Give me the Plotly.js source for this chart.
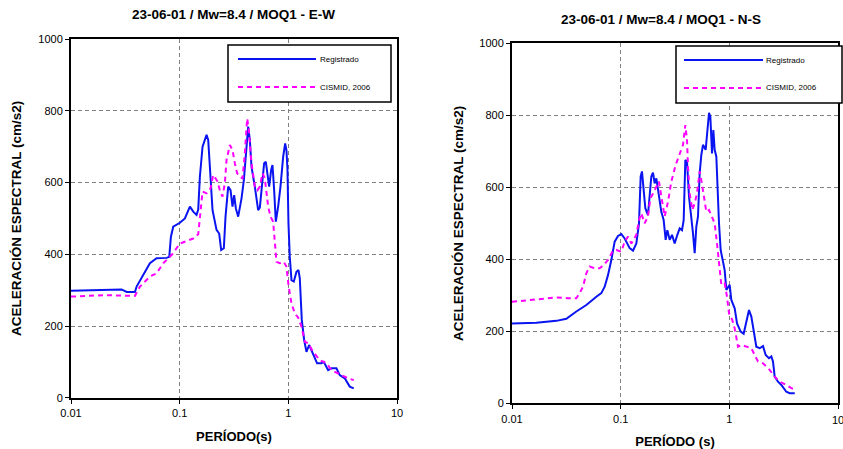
<!DOCTYPE html>
<html>
<head>
<meta charset="utf-8">
<script src="https://cdn.plot.ly/plotly-3.0.1.min.js"></script>
<style>html,body{margin:0;padding:0;background:#fff;overflow:hidden;}#chart{width:843px;height:449px;}</style>
</head>
<body>
<div id="chart"></div>
<script>
// ---- E-W component ----
const ewRegT = [0.01,0.02449,0.02923,0.0325,0.03876,0.04016,0.04624,0.05324,0.06132,0.0758,0.0802,0.08306,0.08728,0.1005,0.1117,0.1242,0.1333,0.1430,0.1482,0.1535,0.1624,0.1768,0.1831,0.1897,0.2007,0.2184,0.2310,0.2410,0.2550,0.2642,0.2796,0.2938,0.3064,0.3174,0.3288,0.3455,0.3709,0.3897,0.4064,0.4270,0.4423,0.4582,0.4917,0.5276,0.5467,0.5743,0.5991,0.6206,0.6383,0.6660,0.6948,0.7147,0.7404,0.7670,0.8058,0.8467,0.8959,0.9347,0.9615,0.9821,1.003,1.031,1.069,1.123,1.188,1.240,1.275,1.330,1.398,1.468,1.554,1.690,1.840,2.016,2.119,2.322,2.493,2.771,2.973,3.305,3.674,3.999];
const ewRegSa = [298,300,302,295,295,310,342,375,389,390,393,449,477,488,500,533,519,510,525,617,700,733,719,635,523,468,458,412,417,505,589,579,533,565,528,505,556,607,672,756,719,644,589,523,530,598,654,658,635,589,635,649,579,491,533,589,672,709,690,635,486,393,328,324,351,356,333,217,161,128,147,119,96,96,100,77,82,82,63,54,31,26];
const ewCisT = [0.01,0.01983,0.03876,0.04309,0.05324,0.06132,0.07063,0.08424,0.1005,0.1199,0.1333,0.1482,0.1535,0.1624,0.1768,0.1924,0.2035,0.2215,0.2343,0.2479,0.2605,0.2699,0.2896,0.3064,0.3219,0.3382,0.3580,0.3788,0.3980,0.4181,0.4331,0.4582,0.4917,0.5202,0.5467,0.5784,0.6076,0.6520,0.6851,0.7249,0.7779,0.8348,0.9087,0.9615,1.003,1.069,1.147,1.231,1.321,1.418,1.521,1.690,1.947,2.242,2.493,2.871,3.191,3.546,3.999];
const ewCisSa = [282,286,284,310,338,347,375,398,430,438,444,456,510,575,570,584,621,605,579,561,598,663,705,691,654,626,616,612,681,779,747,654,589,579,589,626,612,533,505,491,379,375,379,365,314,263,235,224,198,156,152,128,105,96,77,68,63,54,49];

// ---- N-S component ----
const nsRegT = [0.01,0.01675,0.02559,0.03162,0.03908,0.04831,0.05971,0.06638,0.07125,0.07645,0.08205,0.08807,0.09451,0.1014,0.1089,0.1210,0.1299,0.1394,0.1475,0.1528,0.1571,0.1616,0.1686,0.1784,0.1849,0.1915,0.1984,0.2055,0.2129,0.2237,0.2367,0.2487,0.2595,0.2689,0.2825,0.2968,0.3140,0.3323,0.3491,0.3669,0.3800,0.3937,0.4079,0.4255,0.4470,0.4631,0.4797,0.4970,0.5148,0.5333,0.5525,0.5724,0.6056,0.6273,0.6502,0.6688,0.6928,0.7127,0.7329,0.7593,0.7755,0.8033,0.8322,0.8622,0.9060,0.9385,0.9721,1.007,1.043,1.120,1.177,1.272,1.355,1.433,1.517,1.594,1.675,1.772,1.902,2.041,2.160,2.317,2.435,2.522,2.614,2.805,3.009,3.345,3.592,4.0];
const nsRegSa = [222,224,229,235,255,273,296,306,324,356,398,449,465,470,458,431,424,444,500,630,644,602,542,523,569,630,641,611,625,574,532,509,454,481,454,468,444,468,486,481,509,676,671,574,519,472,417,491,519,639,690,718,704,759,807,796,694,759,704,685,602,500,426,398,370,315,324,329,287,264,222,199,193,231,259,241,199,157,153,159,134,125,130,116,74,60,51,32,28,28];
const nsCisT = [0.01,0.01454,0.02559,0.03276,0.03908,0.04195,0.04501,0.04831,0.05185,0.05765,0.06408,0.06976,0.07645,0.08381,0.09123,0.1014,0.1089,0.1168,0.1254,0.1394,0.1475,0.1549,0.1662,0.1784,0.1875,0.1984,0.2129,0.2253,0.2367,0.2541,0.2727,0.2926,0.3208,0.3491,0.3747,0.3937,0.4079,0.4166,0.4315,0.4566,0.4797,0.5041,0.5333,0.5525,0.5805,0.6142,0.6502,0.6831,0.7329,0.7701,0.8147,0.8441,0.9060,0.9517,0.9929,1.066,1.120,1.202,1.290,1.433,1.594,1.711,1.836,2.041,2.350,2.614,2.905,3.345,3.721,4.0];
const nsCisSa = [282,287,294,292,292,306,324,361,380,375,375,384,398,421,426,421,449,463,444,468,509,528,500,519,569,583,602,616,574,519,560,616,662,690,718,773,731,657,583,537,556,583,644,620,574,532,537,523,500,444,370,329,333,296,250,231,208,157,162,157,153,134,116,111,93,74,60,51,42,39];

// ---- texts ----
const titleEW = "23-06-01 / Mw=8.4 / MOQ1 - E-W";
const titleNS = "23-06-01 / Mw=8.4 / MOQ1 - N-S";
const xTitleEW = "PERÍODO(s)";
const xTitleNS = "PERÍODO (s)";
const yTitle = "ACELERACIÓN ESPECTRAL (cm/s2)";
const seriesNames = ["Registrado", "CISMID, 2006"];
const xTickVals = [0.01, 0.1, 1, 10];
const xTickText = ["0.01", "0.1", "1", "10"];
const yTickVals = [0, 200, 400, 600, 800, 1000];

const FONT = "Arial, 'Liberation Sans', sans-serif";
const BLUE = "#0a14f0";
const MAG = "#ff00ff";
const W = 843, H = 449;
const px = v => v / W;
const py = v => 1 - v / H;

const traces = [
  {x: ewRegT, y: ewRegSa, xaxis: 'x', yaxis: 'y', mode: 'lines', name: seriesNames[0], line: {color: BLUE, width: 2}},
  {x: ewCisT, y: ewCisSa, xaxis: 'x', yaxis: 'y', mode: 'lines', name: seriesNames[1], line: {color: MAG, width: 2, dash: '5px,4px'}},
  {x: nsRegT, y: nsRegSa, xaxis: 'x2', yaxis: 'y2', mode: 'lines', name: seriesNames[0], line: {color: BLUE, width: 2}},
  {x: nsCisT, y: nsCisSa, xaxis: 'x2', yaxis: 'y2', mode: 'lines', name: seriesNames[1], line: {color: MAG, width: 2, dash: '5px,4px'}}
];

function xa(domain, titleText, standoff) {
  return {
    type: 'log', range: [-2, 1], domain: domain,
    tickvals: xTickVals, ticktext: xTickText,
    ticks: 'outside', ticklen: 4, tickcolor: '#000', tickwidth: 1,
    showline: true, mirror: true, linecolor: '#000', linewidth: 2,
    showgrid: true, gridcolor: '#808080', griddash: '4px,3px', gridwidth: 1,
    zeroline: false,
    tickfont: {family: FONT, size: 11, color: '#000'},
    title: {text: titleText, font: {family: FONT, size: 13, color: '#000', weight: 'bold'}, standoff: standoff},
    automargin: false
  };
}
function ya(domain, standoff) {
  return {
    range: [0, 1000], domain: domain, tickvals: yTickVals,
    ticks: 'outside', ticklen: 4, tickcolor: '#000', tickwidth: 1,
    showline: true, mirror: true, linecolor: '#000', linewidth: 2,
    showgrid: true, gridcolor: '#808080', griddash: '4px,3px', gridwidth: 1,
    zeroline: false,
    tickfont: {family: FONT, size: 11, color: '#000'},
    title: {text: yTitle, font: {family: FONT, size: 13.5, color: '#000', weight: 'bold'}, standoff: standoff},
    automargin: false
  };
}

// legend drawn with shapes (long line samples as in the original)
function legendShapes(x0, y0, x1, y1, lx0, lx1, ly1, ly2) {
  return [
    {type: 'rect', xref: 'paper', yref: 'paper', x0: px(x0), x1: px(x1), y0: py(y0), y1: py(y1), line: {color: '#000', width: 1.5}, fillcolor: '#fff', layer: 'above'},
    {type: 'line', xref: 'paper', yref: 'paper', x0: px(lx0), x1: px(lx1), y0: py(ly1), y1: py(ly1), line: {color: BLUE, width: 2}, layer: 'above'},
    {type: 'line', xref: 'paper', yref: 'paper', x0: px(lx0), x1: px(lx1), y0: py(ly2), y1: py(ly2), line: {color: MAG, width: 2, dash: '5px,4px'}, layer: 'above'}
  ];
}
function legendTexts(tx, ly1, ly2) {
  return [
    {xref: 'paper', yref: 'paper', x: px(tx), y: py(ly1), text: seriesNames[0], showarrow: false, xanchor: 'left', yanchor: 'middle', font: {family: FONT, size: 8, color: '#000'}},
    {xref: 'paper', yref: 'paper', x: px(tx), y: py(ly2), text: seriesNames[1], showarrow: false, xanchor: 'left', yanchor: 'middle', font: {family: FONT, size: 8, color: '#000'}}
  ];
}

const layout = {
  width: W, height: H,
  margin: {l: 0, r: 0, t: 0, b: 0},
  paper_bgcolor: '#fff', plot_bgcolor: '#fff',
  showlegend: false,
  xaxis: xa([px(71), px(397)], xTitleEW, 14),
  yaxis: ya([py(397.7), py(39.2)], 14),
  xaxis2: Object.assign(xa([px(512), px(838)], xTitleNS, 14), {anchor: 'y2'}),
  yaxis2: Object.assign(ya([py(403.3), py(43.3)], 13), {anchor: 'x2'}),
  shapes: [].concat(
    legendShapes(228, 45, 391, 102, 238, 316, 59, 87),
    legendShapes(676, 46, 842, 103, 684, 763, 60, 88)
  ),
  annotations: [
    {xref: 'paper', yref: 'paper', x: px(233), y: py(15), text: titleEW, showarrow: false, xanchor: 'center', yanchor: 'middle', font: {family: FONT, size: 13.5, color: '#000', weight: 'bold'}},
    {xref: 'paper', yref: 'paper', x: px(661), y: py(20), text: titleNS, showarrow: false, xanchor: 'center', yanchor: 'middle', font: {family: FONT, size: 13.5, color: '#000', weight: 'bold'}},
    {xref: 'paper', yref: 'paper', x: px(838), y: py(420), text: xTickText[3], showarrow: false, xanchor: 'center', yanchor: 'middle', font: {family: FONT, size: 11, color: '#000'}}
  ].concat(legendTexts(318, 59, 87), legendTexts(764, 60, 88))
};
layout.xaxis.anchor = 'y';
layout.yaxis.anchor = 'x';

Plotly.newPlot('chart', traces, layout, {displayModeBar: false, staticPlot: true});
</script>
</body>
</html>
